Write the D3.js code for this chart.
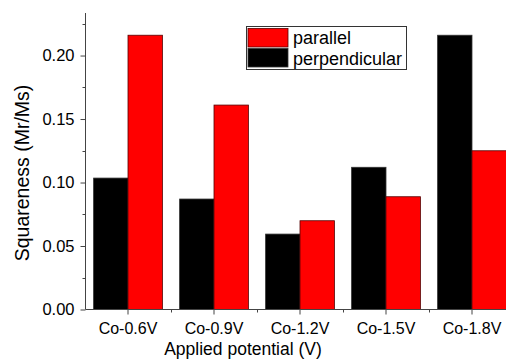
<!DOCTYPE html>
<html>
<head>
<meta charset="utf-8">
<script src="https://cdn.jsdelivr.net/npm/d3@7"></script>
<style>
  body { margin: 0; background: #fff; }
  svg { display: block; font-family: "Liberation Sans", Arial, sans-serif; }
</style>
</head>
<body>
<div id="container"></div>
<script>
const categories = ["Co-0.6V", "Co-0.9V", "Co-1.2V", "Co-1.5V", "Co-1.8V"]
const perpendicular = [0.1035, 0.087, 0.0594, 0.112, 0.216]
const parallel = [0.216, 0.161, 0.0699, 0.0888, 0.125]
const yTicks = [0, 0.05, 0.10, 0.15, 0.20]
const yMinor = [0.025, 0.075, 0.125, 0.175, 0.225]

const width = 506
const height = 360
const axisX = 85.5
const axisY = 309.5

const x = d3.scaleBand()
    .domain(categories)
    .range([85, 85 + 86 * categories.length])
    .padding(0)

const y = d3.scaleLinear()
    .domain([0, 0.2335])
    .range([axisY, 13])

const barW = x.bandwidth() * 0.4

const svg = d3.create("svg")
    .attr("width", width)
    .attr("height", height)

// bars
const groups = svg.append("g")
    .selectAll("g")
    .data(categories)
    .join("g")

groups.append("rect")
    .attr("x", d => x(d) + x.bandwidth() / 2 - barW)
    .attr("y", (d, i) => y(perpendicular[i]))
    .attr("width", barW)
    .attr("height", (d, i) => axisY - y(perpendicular[i]))
    .attr("fill", "#000")
    .attr("stroke", "#333")
    .attr("stroke-width", 0.8)

groups.append("rect")
    .attr("x", d => x(d) + x.bandwidth() / 2)
    .attr("y", (d, i) => y(parallel[i]))
    .attr("width", barW)
    .attr("height", (d, i) => axisY - y(parallel[i]))
    .attr("fill", "#ff0000")
    .attr("stroke", "#500")
    .attr("stroke-width", 0.8)

// y axis
const yAxis = svg.append("g")
    .attr("transform", `translate(${axisX},0)`)
    .call(d3.axisLeft(y).tickValues(yTicks).tickFormat(d3.format(".2f")).tickSize(5).tickPadding(6))
    .attr("font-family", null)
    .attr("font-size", null)
yAxis.select(".domain").attr("stroke", "#444").attr("d", `M0,${axisY}V13`)
yAxis.selectAll(".tick line").attr("stroke", "#444")
yAxis.selectAll(".tick text").attr("font-size", 16.5).attr("fill", "#000")

svg.append("g")
    .selectAll("line")
    .data(yMinor)
    .join("line")
    .attr("x1", axisX - 3).attr("x2", axisX)
    .attr("y1", d => Math.round(y(d)) + 0.5).attr("y2", d => Math.round(y(d)) + 0.5)
    .attr("stroke", "#444")

// x axis
const xAxis = svg.append("g")
    .attr("transform", `translate(0,${axisY})`)
    .call(d3.axisBottom(x).tickSize(5).tickPadding(8))
    .attr("font-family", null)
    .attr("font-size", null)
xAxis.select(".domain").attr("stroke", "#444").attr("d", `M${axisX},0H${width}`)
xAxis.selectAll(".tick line").attr("stroke", "#444")
xAxis.selectAll(".tick text").attr("font-size", 16).attr("fill", "#000")

svg.append("g")
    .selectAll("line")
    .data(categories.slice(1))
    .join("line")
    .attr("x1", d => Math.round(x(d)) + 0.5).attr("x2", d => Math.round(x(d)) + 0.5)
    .attr("y1", axisY).attr("y2", axisY + 3)
    .attr("stroke", "#444")

// axis titles
svg.append("text")
    .attr("x", 243)
    .attr("y", 355)
    .attr("text-anchor", "middle")
    .attr("font-size", 17.5)
    .text("Applied potential (V)")

svg.append("text")
    .attr("transform", "translate(29,173) rotate(-90)")
    .attr("text-anchor", "middle")
    .attr("font-size", 19.5)
    .text("Squareness (Mr/Ms)")

// legend
const legend = svg.append("g").attr("id", "legend")
legend.append("rect")
    .attr("x", 246.5).attr("y", 26.5)
    .attr("width", 160).attr("height", 43)
    .attr("fill", "#fff")
    .attr("stroke", "#333")

const legendItems = [
    {label: "parallel", color: "#ff0000", stroke: "#500"},
    {label: "perpendicular", color: "#000", stroke: "#333"}
]
legendItems.forEach((item, i) => {
    legend.append("rect")
        .attr("x", 248).attr("y", 28.5 + i * 20)
        .attr("width", 40).attr("height", 18.5)
        .attr("fill", item.color)
        .attr("stroke", item.stroke)
        .attr("stroke-width", 0.8)
    legend.append("text")
        .attr("x", 293).attr("y", 43.5 + i * 21)
        .attr("font-size", 18)
        .text(item.label)
})

document.querySelector("#container").appendChild(svg.node())
</script>
</body>
</html>
